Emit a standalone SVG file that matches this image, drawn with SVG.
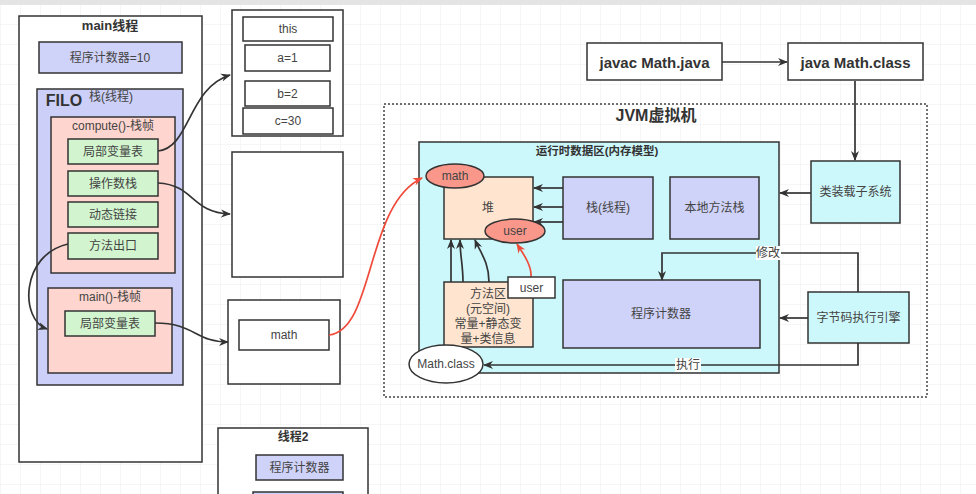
<svg xmlns="http://www.w3.org/2000/svg" width="976" height="494" viewBox="0 0 976 494">
<defs>
<pattern id="grid" width="20" height="20" patternUnits="userSpaceOnUse" x="0" y="4">
<path d="M20 0H0V20" fill="none" stroke="#eeeeee" stroke-width="1"/>
</pattern>
<marker id="ah" viewBox="0 0 10 10" refX="9" refY="5" markerWidth="10" markerHeight="10" orient="auto" markerUnits="userSpaceOnUse">
<path d="M0 1L10 5L0 9L3 5Z" fill="#333"/>
</marker>
<marker id="ahr" viewBox="0 0 10 10" refX="9" refY="5" markerWidth="10" markerHeight="10" orient="auto" markerUnits="userSpaceOnUse">
<path d="M0 1L10 5L0 9L3 5Z" fill="#f04a3a"/>
</marker>
</defs>
<style>
.b{stroke:#333;stroke-width:1.5}
.w{fill:#fff}
.lav{fill:#d0d3f9}
.pink{fill:#ffd6cf}
.grn{fill:#d2f5cf}
.cyan{fill:#cdf8fb}
.peach{fill:#ffe5cf}
.sal{fill:#f9978b}
text{font-family:"Liberation Sans","Noto Sans CJK SC",sans-serif;font-size:12px;fill:#444;text-anchor:middle;dominant-baseline:central}
.bold{font-weight:bold;fill:#333}
.t13{font-size:13px}
.t15{font-size:15px}
.t16{font-size:16px}
.t115{font-size:11.5px}
.c{fill:none;stroke:#333;stroke-width:1.7}
.r{fill:none;stroke:#f04a3a;stroke-width:1.7}
</style>
<rect width="976" height="494" fill="#fff"/>
<rect width="976" height="494" fill="url(#grid)"/>
<rect width="976" height="5" fill="#e4e4e4"/>

<g id="main-thread">
<rect class="b w" x="19" y="16" width="183" height="446"/>
<text class="bold t13" x="110" y="25">main线程</text>
</g>
<g id="pc-main">
<rect class="b lav" x="39" y="42" width="143" height="31"/>
<text x="110" y="57.500">程序计数器=10</text>
</g>
<g id="stack">
<rect class="b" x="37" y="89" width="146" height="296" fill="#ccd0f8"/>
<text class="bold t16" x="64" y="100">FILO</text>
<text x="111" y="97">栈(线程)</text>
</g>
<g id="compute-frame">
<rect class="b pink" x="51" y="117" width="124" height="156"/>
<text x="113" y="126">compute()-栈帧</text>
</g>
<g id="lvt1"><rect class="b grn" x="68" y="139" width="90" height="25"/><text x="113" y="151.500">局部变量表</text></g>
<g id="opstack"><rect class="b grn" x="68" y="171" width="90" height="25"/><text x="113" y="183.500">操作数栈</text></g>
<g id="dynlink"><rect class="b grn" x="68" y="202" width="90" height="25"/><text x="113" y="214.500">动态链接</text></g>
<g id="retaddr"><rect class="b grn" x="68" y="233" width="90" height="26"/><text x="113" y="246">方法出口</text></g>
<g id="main-frame">
<rect class="b pink" x="48" y="288" width="124" height="85"/>
<text x="110" y="297">main()-栈帧</text>
</g>
<g id="lvt2"><rect class="b grn" x="65" y="311" width="90" height="25"/><text x="110" y="323.500">局部变量表</text></g>

<g id="lvt-box">
<rect class="b w" x="232" y="10" width="111" height="126"/>
<rect class="b w" x="243" y="17" width="90" height="24"/><text x="288" y="29">this</text>
<rect class="b w" x="245" y="45" width="85" height="26"/><text x="287.500" y="58">a=1</text>
<rect class="b w" x="245" y="81" width="85" height="25"/><text x="287.500" y="93.500">b=2</text>
<rect class="b w" x="243" y="108" width="90" height="26"/><text x="288" y="121">c=30</text>
</g>
<g id="opstack-box"><rect class="b w" x="232" y="152" width="111" height="125"/></g>
<g id="math-box">
<rect class="b w" x="228" y="300" width="112" height="84"/>
<rect class="b w" x="239" y="320" width="90" height="30"/><text x="284" y="335">math</text>
</g>
<g id="thread2">
<rect class="b w" x="218" y="428" width="150" height="80"/>
<text class="bold" x="293" y="437">线程2</text>
<rect class="b lav" x="256" y="455" width="87" height="25"/><text x="299.500" y="467.500">程序计数器</text>
<rect class="b lav" x="253" y="492" width="90" height="20"/>
</g>

<g id="jvm">
<rect x="384" y="104" width="543" height="293" fill="none" stroke="#444" stroke-width="1.5" stroke-dasharray="2 2"/>
<text class="bold t16" x="656" y="115">JVM虚拟机</text>
</g>
<g id="runtime">
<rect class="b cyan" x="419" y="142" width="360" height="231"/>
<text class="bold t115" x="597" y="151">运行时数据区(内存模型)</text>
</g>
<g id="heap"><rect class="b peach" x="444" y="177" width="89" height="62"/><text x="488" y="208">堆</text></g>
<g id="stack2"><rect class="b lav" x="563" y="177" width="90" height="62"/><text x="608" y="208">栈(线程)</text></g>
<g id="native"><rect class="b lav" x="670" y="177" width="89" height="62"/><text x="714.500" y="208">本地方法栈</text></g>
<g id="methodarea">
<rect class="b peach" x="444" y="282" width="89" height="65"/>
<text x="488" y="294">方法区</text><text x="488" y="309">(元空间)</text><text x="488" y="324">常量+静态变</text><text x="488" y="339">量+类信息</text>
</g>
<g id="pc-jvm"><rect class="b lav" x="563" y="280" width="197" height="68"/><text x="661" y="314">程序计数器</text></g>
<g id="classloader"><rect class="b cyan" x="811" y="161" width="89" height="62"/><text x="855.500" y="192">类装载子系统</text></g>
<g id="engine"><rect class="b cyan" x="808" y="292" width="101" height="51"/><text x="858.500" y="317.500">字节码执行引擎</text></g>
<g id="javac"><rect class="b w" x="587" y="43" width="135" height="37"/><text class="bold t15" x="654.500" y="62">javac Math.java</text></g>
<g id="java"><rect class="b w" x="788" y="43" width="135" height="37"/><text class="bold t15" x="855.500" y="62">java Math.class</text></g>

<g id="connectors">
<path class="c" marker-end="url(#ah)" d="M158 151C190 148 188 88 230 75"/>
<path class="c" marker-end="url(#ah)" d="M158 183C195 185 190 212 230 214"/>
<path class="c" marker-end="url(#ah)" d="M68 244C20 255 20 320 47 329"/>
<path class="c" marker-end="url(#ah)" d="M155 323C195 323 195 342 228 342"/>
<path class="r" marker-end="url(#ahr)" d="M329 335C375 330 365 205 422 178"/>
<path class="c" marker-end="url(#ah)" d="M722 62H787"/>
<path class="c" marker-end="url(#ah)" d="M855 81V160"/>
<path class="c" marker-end="url(#ah)" d="M811 193H780"/>
<path class="c" marker-end="url(#ah)" d="M808 318H780"/>
<path class="c" marker-end="url(#ah)" d="M563 188H534"/>
<path class="c" marker-end="url(#ah)" d="M563 207H534"/>
<path class="c" marker-end="url(#ah)" d="M563 222H534"/>
<path class="c" marker-end="url(#ah)" d="M858 292V253H662V280"/>
<path class="c" marker-end="url(#ah)" d="M858 343V365H484"/>
<path class="c" marker-end="url(#ah)" d="M451 282V240"/>
<path class="c" marker-end="url(#ah)" d="M463 282C463 265 460 255 460 240"/>
<path class="c" marker-end="url(#ah)" d="M489 282C489 262 480 252 475 240"/>
<path class="r" marker-end="url(#ahr)" d="M531 277C532 265 522 252 517 244"/>
<rect x="756" y="246" width="25" height="14" fill="#fff"/><text x="768" y="253">修改</text>
<rect x="675" y="358" width="26" height="14" fill="#fff"/><text x="688" y="365">执行</text>
</g>
<g id="math-ell"><ellipse class="b sal" cx="455" cy="176" rx="29" ry="12"/><text x="455" y="176">math</text></g>
<g id="user-ell"><ellipse class="b sal" cx="515" cy="231" rx="30" ry="12"/><text x="515" y="231">user</text></g>
<g id="user-box"><rect class="b w" x="508" y="277" width="47" height="21"/><text x="531.500" y="287.500">user</text></g>
<g id="mathclass"><ellipse class="b w" cx="446" cy="364" rx="37" ry="19"/><text x="446" y="364">Math.class</text></g>
</svg>
